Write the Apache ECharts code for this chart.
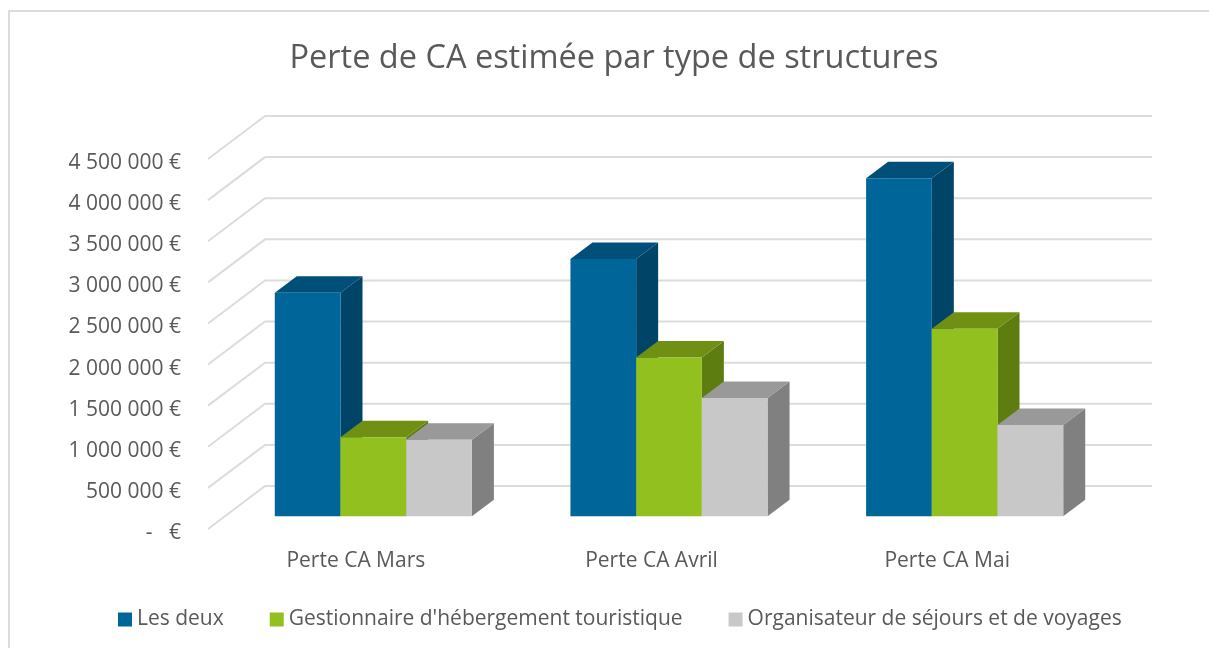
<!DOCTYPE html>
<html>
<head>
<meta charset="utf-8">
<style>
  html, body { margin: 0; padding: 0; background: #fff; }
  #chart { width: 1209px; height: 648px; }
</style>
<script src="https://cdn.jsdelivr.net/npm/echarts@6/dist/echarts.min.js"></script>
</head>
<body>
<div id="chart"></div>
<script>
const categories = ["Perte CA Mars", "Perte CA Avril", "Perte CA Mai"];
const lesDeux = [2720000, 3130000, 4110000];
const gestionnaire = [960000, 1930000, 2280000];
const organisateur = [930000, 1440000, 1110000];
const valueTicks = [0, 500000, 1000000, 1500000, 2000000, 2500000, 3000000, 3500000, 4000000, 4500000];

const textColor = "#595959";
const fontFamily = "'Open Sans', 'Noto Sans', sans-serif";

// fake 3D: wall depth, bar position inside the floor, bar depth
const wallDx = 57, wallDy = -43;
const floorDx = 17.5, floorDy = -12.7;
const barDx = 22, barDy = -16.5;

function formatEuro(value) {
  const text = value === 0 ? "-   €" : String(value).replace(/\B(?=(\d{3})+$)/g, " ") + " €";
  return "{v|" + text + "}";
}

function wallItem(params, api) {
  const y = api.coord([0, api.value(0)])[1];
  const box = params.coordSys;
  return {
    type: "polyline",
    shape: {
      points: [
        [box.x, y],
        [box.x + wallDx, y + wallDy],
        [box.x + box.width + wallDx, y + wallDy],
      ],
    },
    style: { stroke: "#dcdcdc", lineWidth: 2, fill: null },
  };
}

function barSeries(name, values, index, front, top, side) {
  return {
    name,
    type: "custom",
    clip: false,
    z: 3 + index,
    itemStyle: { color: front },
    data: values.map((v, i) => [i, v]),
    encode: { x: 0, y: 1 },
    renderItem(params, api) {
      const cat = api.value(0);
      const topPt = api.coord([cat, api.value(1)]);
      const basePt = api.coord([cat, 0]);
      const w = api.size([1, 0])[0] / 4.5;
      const x0 = topPt[0] + floorDx + (index - 1.5) * w;
      const x1 = x0 + w;
      const yt = topPt[1] + floorDy;
      const yb = basePt[1] + floorDy;
      return {
        type: "group",
        children: [
          {
            type: "polygon",
            shape: { points: [[x1, yt], [x1 + barDx, yt + barDy], [x1 + barDx, yb + barDy], [x1, yb]] },
            style: { fill: side },
          },
          {
            type: "polygon",
            shape: { points: [[x0, yt], [x0 + barDx, yt + barDy], [x1 + barDx, yt + barDy], [x1, yt]] },
            style: { fill: top },
          },
          {
            type: "rect",
            shape: { x: x0, y: yt, width: w, height: yb - yt },
            style: { fill: front },
          },
        ],
      };
    },
  };
}

const chart = echarts.init(document.getElementById("chart"));
chart.setOption({
  animation: false,
  title: {
    text: "Perte de CA estimée par type de structures",
    left: 609,
    top: 37,
    textAlign: "center",
    textStyle: { color: textColor, fontFamily, fontSize: 32.5, fontWeight: "normal" },
  },
  legend: {
    left: 113,
    top: 604,
    icon: "rect",
    itemWidth: 14,
    itemHeight: 14,
    itemGap: 46,
    selectedMode: false,
    data: ["Les deux", "Gestionnaire d'hébergement touristique", "Organisateur de séjours et de voyages"],
    textStyle: { color: textColor, fontFamily, fontSize: 21 },
  },
  grid: { left: 208, top: 159, width: 887, height: 370 },
  xAxis: {
    type: "category",
    data: categories,
    axisLine: { show: false },
    axisTick: { show: false },
    axisLabel: { color: textColor, fontFamily, fontSize: 21, margin: 22 },
  },
  yAxis: {
    type: "value",
    min: 0,
    max: 4500000,
    interval: 500000,
    axisLine: { show: false },
    axisTick: { show: false },
    splitLine: { show: false },
    axisLabel: {
      color: textColor,
      fontFamily,
      fontSize: 21,
      margin: 27,
      formatter: formatEuro,
      // labels sit a little below their gridline tips
      rich: { v: { color: textColor, fontFamily, fontSize: 21, padding: [8, 0, 0, 0] } },
    },
  },
  graphic: [
    {
      type: "rect",
      silent: true,
      z: -1,
      // only the left and top edges of the frame show in the crop
      shape: { x: 9, y: 11, width: 1300, height: 700 },
      style: { fill: null, stroke: "#dcdcdc", lineWidth: 2 },
    },
  ],
  series: [
    {
      type: "custom",
      clip: false,
      z: 1,
      silent: true,
      data: valueTicks,
      encode: { y: 0 },
      renderItem: wallItem,
    },
    barSeries("Les deux", lesDeux, 0, "#006699", "#004f79", "#004468"),
    barSeries("Gestionnaire d'hébergement touristique", gestionnaire, 1, "#92c01f", "#6f9013", "#5e7d10"),
    barSeries("Organisateur de séjours et de voyages", organisateur, 2, "#c8c8c8", "#999999", "#808080"),
  ],
});
</script>
</body>
</html>
